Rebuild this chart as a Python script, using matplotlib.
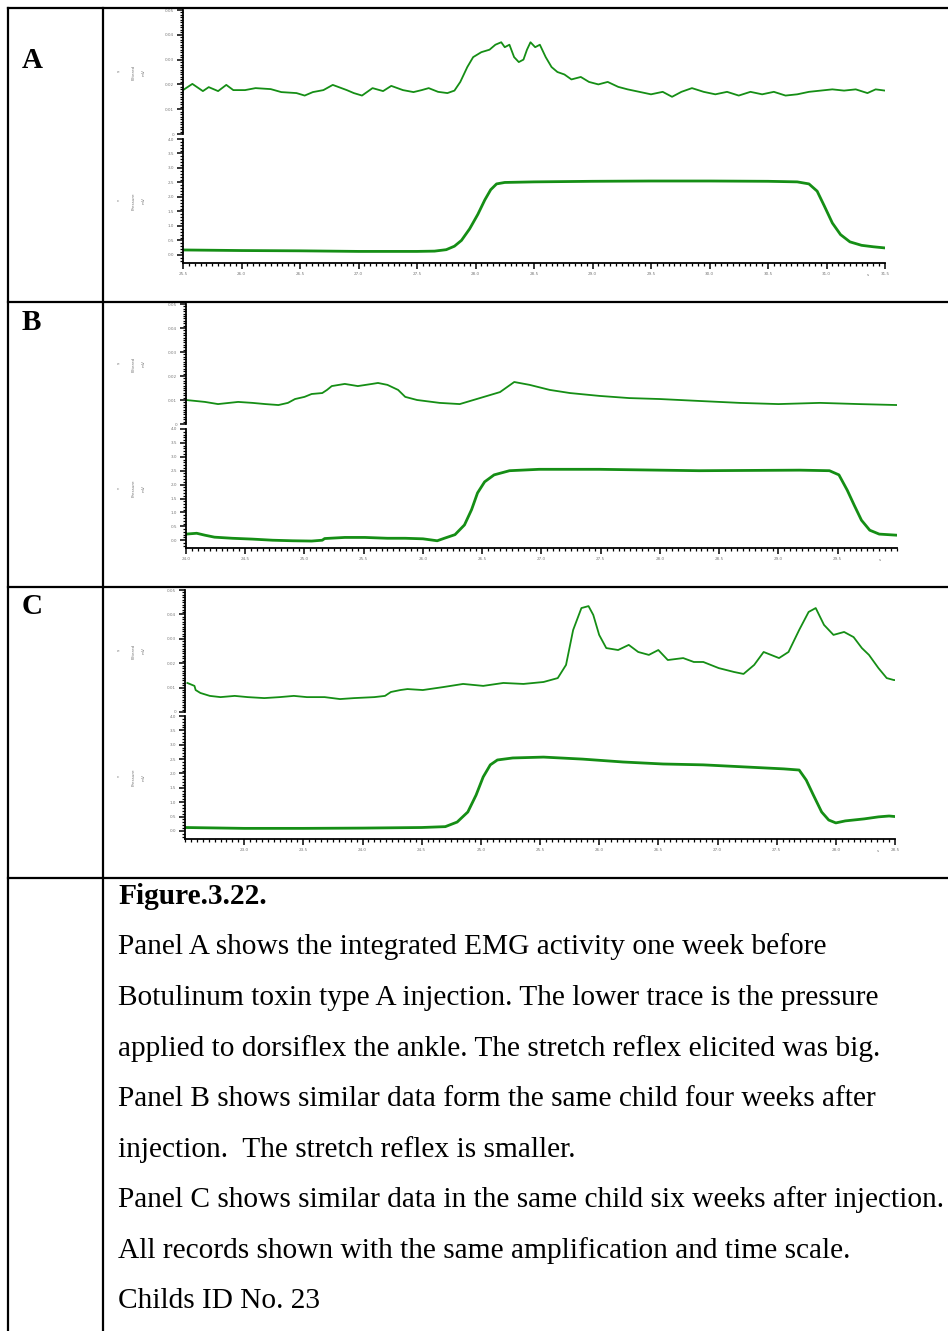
import matplotlib
matplotlib.use("Agg")
import matplotlib.pyplot as plt
from matplotlib.lines import Line2D
from matplotlib.ticker import MultipleLocator, FixedLocator

W, H = 948, 1331

# panel A (one week before injection)
a_emg_t = [25.50, 25.58, 25.67, 25.72, 25.80, 25.87, 25.93, 26.03, 26.12, 26.25, 26.34, 26.47,
           26.54, 26.61, 26.70, 26.78, 26.90, 26.96, 27.03, 27.12, 27.21, 27.28, 27.38, 27.47,
           27.54, 27.60, 27.68, 27.76, 27.82, 27.87, 27.93, 27.98, 28.05, 28.12, 28.17, 28.22,
           28.25, 28.29, 28.33, 28.37, 28.41, 28.44, 28.47, 28.51, 28.55, 28.60, 28.65, 28.70,
           28.76, 28.82, 28.90, 28.97, 29.05, 29.13, 29.22, 29.30, 29.40, 29.50, 29.60, 29.68,
           29.76, 29.85, 29.95, 30.05, 30.15, 30.25, 30.35, 30.45, 30.55, 30.65, 30.75, 30.85,
           30.95, 31.05, 31.15, 31.25, 31.35, 31.42, 31.50]
a_emg_v = [0.0177, 0.0202, 0.0173, 0.0189, 0.0173, 0.0198, 0.0177, 0.0177, 0.0185, 0.0181, 0.0169, 0.0165,
           0.0155, 0.0169, 0.0177, 0.0198, 0.0177, 0.0165, 0.0155, 0.0185, 0.0173, 0.0194, 0.0177, 0.0169,
           0.0177, 0.0185, 0.0170, 0.0165, 0.0175, 0.0210, 0.0270, 0.0310, 0.0330, 0.0340, 0.0360, 0.0370,
           0.0350, 0.0360, 0.0310, 0.0290, 0.0300, 0.0340, 0.0370, 0.0350, 0.0360, 0.0310, 0.0270, 0.0250,
           0.0240, 0.0220, 0.0230, 0.0210, 0.0200, 0.0210, 0.0190, 0.0180, 0.0170, 0.0160, 0.0170, 0.0150,
           0.0170, 0.0185, 0.0170, 0.0160, 0.0170, 0.0155, 0.0170, 0.0160, 0.0170, 0.0155, 0.0160, 0.0170,
           0.0175, 0.0180, 0.0175, 0.0180, 0.0165, 0.0180, 0.0175]
a_prs_t = [25.5, 26.0, 26.5, 27.0, 27.5, 27.65, 27.75, 27.82, 27.88, 27.95, 28.02, 28.08, 28.13,
           28.18, 28.25, 28.5, 29.0, 29.5, 30.0, 30.5, 30.75, 30.85, 30.92, 30.98, 31.05, 31.12,
           31.2, 31.3, 31.4, 31.5]
a_prs_v = [0.17, 0.15, 0.14, 0.12, 0.12, 0.13, 0.18, 0.30, 0.50, 0.90, 1.40, 1.90, 2.25,
           2.45, 2.50, 2.52, 2.54, 2.55, 2.55, 2.54, 2.52, 2.45, 2.20, 1.70, 1.10, 0.70,
           0.45, 0.33, 0.28, 0.24]

# panel B (four weeks after)
b_emg_t = [24.0, 24.16, 24.27, 24.44, 24.56, 24.67, 24.78, 24.86, 24.92, 25.0, 25.06, 25.15,
           25.19, 25.23, 25.34, 25.45, 25.57, 25.62, 25.70, 25.79, 25.85, 25.95, 26.14, 26.31,
           26.48, 26.65, 26.77, 26.90, 27.07, 27.24, 27.49, 27.74, 28.0, 28.33, 28.67, 29.0,
           29.35, 29.68, 30.0]
b_emg_v = [0.0100, 0.0092, 0.0083, 0.0092, 0.0088, 0.0083, 0.0079, 0.0088, 0.0104, 0.0113, 0.0125, 0.0129,
           0.0142, 0.0158, 0.0167, 0.0158, 0.0167, 0.0171, 0.0163, 0.0142, 0.0113, 0.0100, 0.0088, 0.0083,
           0.0108, 0.0133, 0.0175, 0.0163, 0.0142, 0.0129, 0.0117, 0.0108, 0.0104, 0.0096, 0.0088, 0.0083,
           0.0088, 0.0083, 0.0079]
b_prs_t = [24.0, 24.09, 24.16, 24.24, 24.39, 24.56, 24.73, 24.9, 25.06, 25.15, 25.17, 25.34,
           25.51, 25.7, 25.85, 26.0, 26.12, 26.18, 26.27, 26.35, 26.41, 26.46, 26.52, 26.6,
           26.73, 26.98, 27.49, 28.33, 29.18, 29.43, 29.51, 29.58, 29.64, 29.7, 29.77, 29.85, 30.0]
b_prs_v = [0.22, 0.25, 0.18, 0.11, 0.07, 0.04, 0.0, -0.02, -0.03, 0.0, 0.06, 0.10,
           0.10, 0.07, 0.07, 0.05, -0.02, 0.07, 0.20, 0.55, 1.10, 1.70, 2.10, 2.35,
           2.50, 2.55, 2.55, 2.50, 2.52, 2.50, 2.35, 1.80, 1.25, 0.72, 0.36, 0.22, 0.18]

# panel C (six weeks after)
c_emg_t = [22.52, 22.58, 22.59, 22.63, 22.71, 22.80, 22.92, 23.03, 23.17, 23.30, 23.42, 23.53,
           23.68, 23.81, 23.93, 24.10, 24.19, 24.24, 24.32, 24.38, 24.51, 24.68, 24.85, 25.02,
           25.19, 25.36, 25.53, 25.65, 25.72, 25.78, 25.85, 25.91, 25.95, 26.00, 26.06, 26.16,
           26.25, 26.33, 26.42, 26.50, 26.58, 26.71, 26.80, 26.88, 27.01, 27.14, 27.22, 27.31,
           27.39, 27.52, 27.60, 27.69, 27.77, 27.83, 27.90, 27.98, 28.07, 28.15, 28.22, 28.28,
           28.36, 28.43, 28.49, 28.53]
c_emg_v = [0.0119, 0.0107, 0.0090, 0.0078, 0.0066, 0.0061, 0.0066, 0.0061, 0.0057, 0.0061, 0.0066, 0.0061,
           0.0061, 0.0053, 0.0057, 0.0061, 0.0066, 0.0082, 0.0090, 0.0094, 0.0090, 0.0102, 0.0115, 0.0107,
           0.0119, 0.0115, 0.0123, 0.0139, 0.0193, 0.0336, 0.0426, 0.0434, 0.0398, 0.0316, 0.0262, 0.0254,
           0.0275, 0.0246, 0.0234, 0.0254, 0.0213, 0.0221, 0.0205, 0.0205, 0.0180, 0.0164, 0.0156, 0.0193,
           0.0246, 0.0221, 0.0246, 0.0336, 0.0410, 0.0426, 0.0357, 0.0316, 0.0328, 0.0307, 0.0262, 0.0234,
           0.0180, 0.0139, 0.0131, 0.0130]
c_prs_t = [22.5, 23.0, 23.5, 24.0, 24.5, 24.7, 24.8, 24.89, 24.96, 25.02, 25.08, 25.14,
           25.27, 25.53, 25.86, 26.2, 26.54, 26.88, 27.22, 27.56, 27.69, 27.75, 27.81, 27.88,
           27.94, 28.0, 28.08, 28.24, 28.36, 28.45, 28.53]
c_prs_v = [0.12, 0.09, 0.09, 0.10, 0.12, 0.15, 0.31, 0.66, 1.25, 1.88, 2.30, 2.47,
           2.54, 2.57, 2.50, 2.40, 2.33, 2.30, 2.23, 2.16, 2.12, 1.77, 1.25, 0.66,
           0.38, 0.28, 0.35, 0.42, 0.49, 0.52, 0.49]

a_xticks = [25.5, 26.0, 26.5, 27.0, 27.5, 28.0, 28.5, 29.0, 29.5, 30.0, 30.5, 31.0, 31.5]
b_xticks = [24.0, 24.5, 25.0, 25.5, 26.0, 26.5, 27.0, 27.5, 28.0, 28.5, 29.0, 29.5]
c_xticks = [23.0, 23.5, 24.0, 24.5, 25.0, 25.5, 26.0, 26.5, 27.0, 27.5, 28.0, 28.5]
emg_yticks = [0, 0.01, 0.02, 0.03, 0.04, 0.05]
emg_ylabels = ["0", "0.01", "0.02", "0.03", "0.04", "0.05"]
prs_yticks = [0.0, 0.5, 1.0, 1.5, 2.0, 2.5, 3.0, 3.5, 4.0]

caption = [
    "Panel A shows the integrated EMG activity one week before",
    "Botulinum toxin type A injection. The lower trace is the pressure",
    "applied to dorsiflex the ankle. The stretch reflex elicited was big.",
    "Panel B shows similar data form the same child four weeks after",
    "injection.  The stretch reflex is smaller.",
    "Panel C shows similar data in the same child six weeks after injection.",
    "All records shown with the same amplification and time scale.",
    "Childs ID No. 23",
]

GREEN = "#158e15"
fig = plt.figure(figsize=(W / 100, H / 100), dpi=100)


def px_axes(l, t, r, b):
    return fig.add_axes([l / W, 1 - b / H, (r - l) / W, (b - t) / H])


def fig_line(x0, y0, x1, y1):
    fig.add_artist(Line2D([x0 / W, x1 / W], [1 - y0 / H, 1 - y1 / H],
                          transform=fig.transFigure, color="black", lw=1.6))


def style(ax):
    for s in ["top", "right"]:
        ax.spines[s].set_visible(False)
    for s in ["left", "bottom"]:
        ax.spines[s].set_linewidth(1.3)
    ax.tick_params(which="major", direction="out", length=4.5, width=1.1,
                   labelsize=3, labelcolor="#777777", pad=2)
    ax.tick_params(which="minor", direction="out", length=2.2, width=0.9)
    ax.set_facecolor("none")


def panel(left, right, emg_top, emg_bot, prs_top, prs_bot, xlim, xticks,
          emg_t, emg_v, prs_t, prs_v):
    ax1 = px_axes(left, emg_top, right, emg_bot)
    ax1.plot(emg_t, emg_v, color=GREEN, lw=1.3)
    ax1.set_xlim(xlim)
    ax1.set_ylim(0, 0.05)
    style(ax1)
    ax1.spines["bottom"].set_visible(False)
    ax1.set_xticks([])
    ax1.yaxis.set_major_locator(FixedLocator(emg_yticks))
    ax1.set_yticklabels(emg_ylabels)
    ax1.yaxis.set_minor_locator(MultipleLocator(0.001))

    ax2 = px_axes(left, prs_top, right, prs_bot)
    ax2.plot(prs_t, prs_v, color=GREEN, lw=2.0)
    ax2.set_xlim(xlim)
    ax2.set_ylim(-0.28, 4.0)
    style(ax2)
    ax2.set_yticks(prs_yticks)
    ax2.set_yticklabels(["%.1f" % v for v in prs_yticks])
    ax2.yaxis.set_minor_locator(MultipleLocator(0.1))
    ax2.set_xticks(xticks)
    ax2.set_xticklabels(["%.1f" % v for v in xticks])
    ax2.xaxis.set_minor_locator(MultipleLocator(0.05))

    emg_mid = (emg_top + emg_bot) / 2
    prs_mid = (prs_top + prs_bot) / 2
    for y, name in [(emg_mid, "Filtered"), (prs_mid, "Pressure")]:
        fig.text(118 / W, 1 - y / H, "e" if name == "Filtered" else "c",
                 fontsize=3, color="#777777", ha="center", va="center")
        fig.text(134 / W, 1 - y / H, name, fontsize=3, color="#777777",
                 rotation=90, ha="center", va="center")
        fig.text(144 / W, 1 - y / H, "mV", fontsize=3, color="#777777",
                 rotation=90, ha="center", va="center")
    fig.text((right - 17) / W, 1 - (prs_bot + 12) / H, "s", fontsize=3,
             color="#777777", ha="center", va="center")


panel(183, 885, 10, 134, 139, 263, (25.5, 31.5), a_xticks, a_emg_t, a_emg_v, a_prs_t, a_prs_v)
panel(186, 897, 304, 424, 429, 548, (24.0, 30.0), b_xticks, b_emg_t, b_emg_v, b_prs_t, b_prs_v)
panel(185, 895, 590, 712, 716, 839, (22.5, 28.5), c_xticks, c_emg_t, c_emg_v, c_prs_t, c_prs_v)

# table grid
fig_line(8, 8, W, 8)
fig_line(8, 8, 8, H)
fig_line(103, 8, 103, H)
for y in [302, 587, 878]:
    fig_line(8, y, W, y)

serif = "Liberation Serif"
for y, lab in [(60, "A"), (322, "B"), (606, "C")]:
    fig.text(22 / W, 1 - y / H, lab, fontsize=21, fontweight="bold",
             family=serif, ha="left", va="center")

fig.text(118 / W, 1 - 897 / H, "Figure.3.22.", fontsize=21.2, fontweight="bold",
         family=serif, ha="left", va="center")
for i, line in enumerate(caption):
    fig.text(118 / W, 1 - (947 + i * 50.6) / H, line, fontsize=21.2,
             family=serif, ha="left", va="center")

fig.savefig("out.png", dpi=100)
